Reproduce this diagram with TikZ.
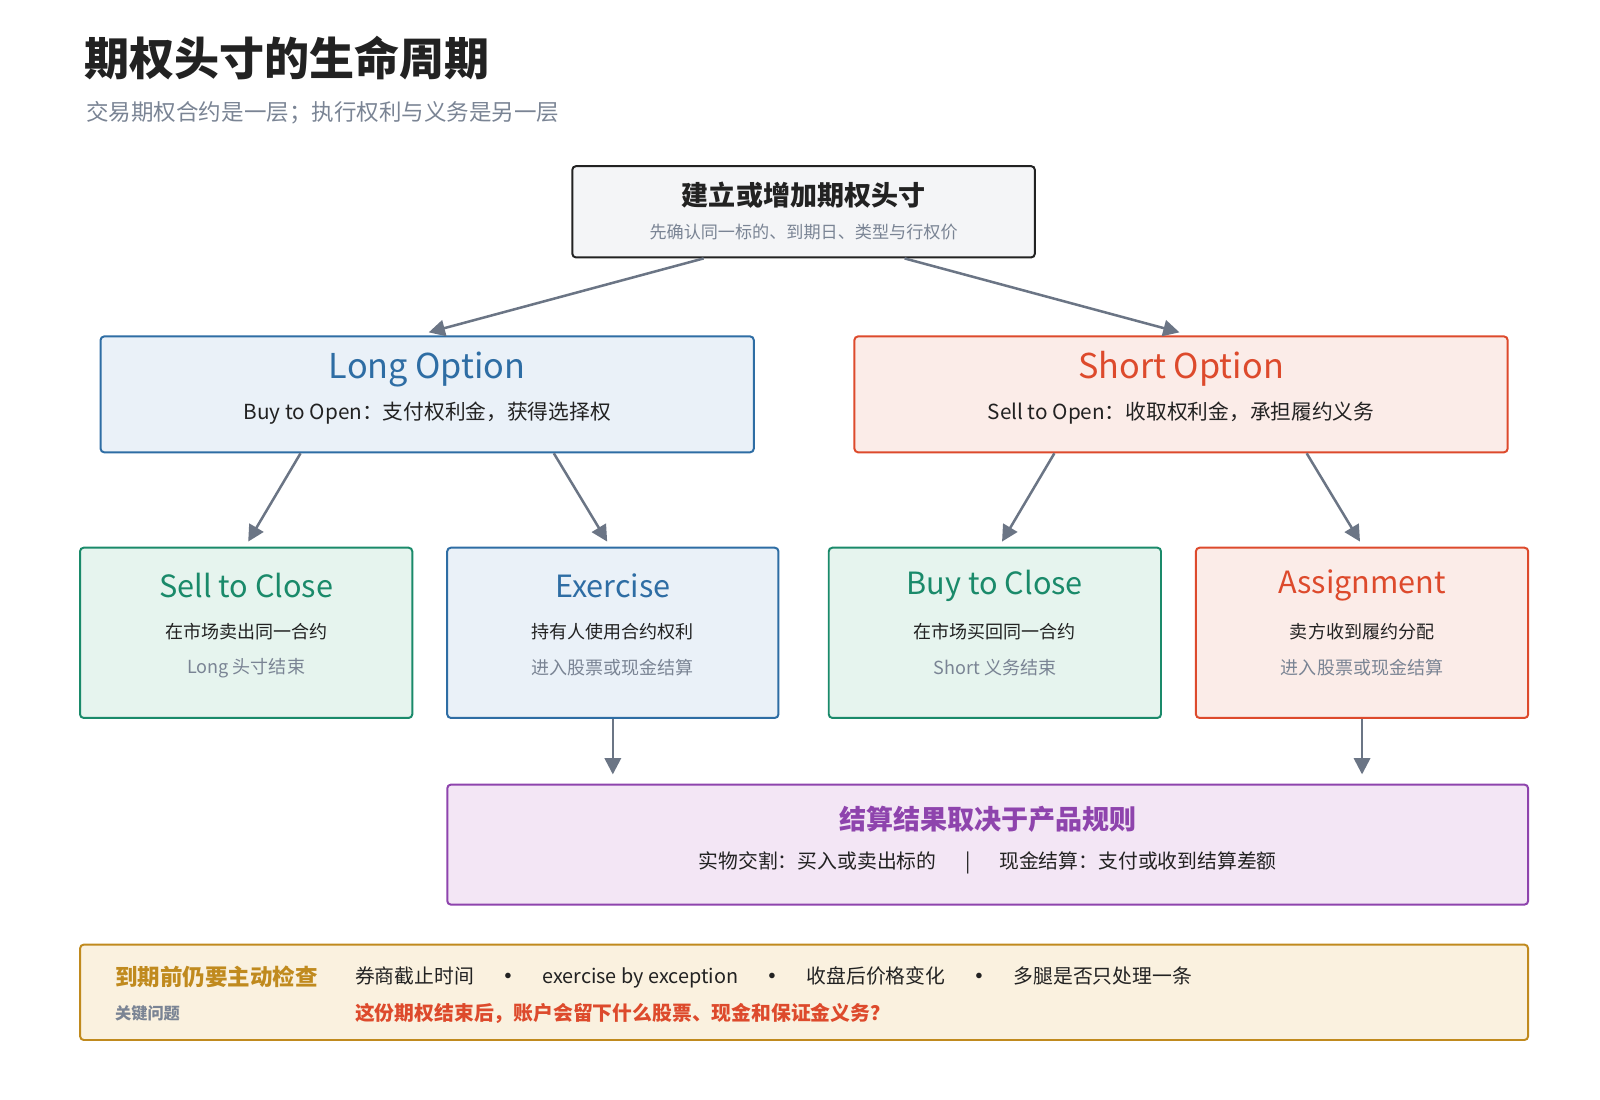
\documentclass[tikz,border=0pt]{standalone}
\usepackage{fontspec}
\setmainfont{Noto Sans CJK SC}
\usetikzlibrary{arrows.meta,positioning,calc}
\definecolor{ink}{HTML}{222222}
\definecolor{muted}{HTML}{7A8494}
\definecolor{arrowgray}{HTML}{6B7585}
\definecolor{blueln}{HTML}{2E6DA4}
\definecolor{bluebg}{HTML}{EAF1F8}
\definecolor{redln}{HTML}{DD4A2C}
\definecolor{redbg}{HTML}{FBECE8}
\definecolor{greenln}{HTML}{1A8A6A}
\definecolor{greenbg}{HTML}{E6F4EE}
\definecolor{purpleln}{HTML}{8E44AD}
\definecolor{purplebg}{HTML}{F3E6F5}
\definecolor{goldln}{HTML}{C08A1E}
\definecolor{goldbg}{HTML}{FAF1DF}
\definecolor{topbg}{HTML}{F4F5F7}
\tikzset{
  box/.style={draw, line width=1.1pt, rounded corners=2pt, inner sep=0pt},
  arr/.style={-{Triangle[length=9pt,width=9pt]}, draw=arrowgray, line width=1.4pt},
  head/.style={font=\fontsize{17}{20}\selectfont},
  line1/.style={font=\fontsize{10}{12}\selectfont, text=ink},
  line2/.style={font=\fontsize{10}{12}\selectfont, text=muted},
}
\begin{document}
\begin{tikzpicture}[x=0.02cm,y=0.02cm]
  \useasboundingbox (0,0) rectangle (1560,-1072);

  % title
  \node[anchor=west, font=\bfseries\fontsize{25}{28}\selectfont, text=ink] (title) at (76,-57) {期权头寸的生命周期};
  \node[anchor=west, font=\fontsize{12.5}{15}\selectfont, text=muted] (subtitle) at (78,-110) {交易期权合约是一层；执行权利与义务是另一层};

  % top box
  \node[box, draw=ink, fill=topbg, minimum width=9.02cm, minimum height=1.78cm] (top) at (783.5,-206.5) {};
  \node[font=\bfseries\fontsize{15}{18}\selectfont, text=ink] (toph) at (783.5,-190) {建立或增加期权头寸};
  \node[font=\fontsize{9.5}{11}\selectfont, text=muted] (tops) at (783.5,-226) {先确认同一标的、到期日、类型与行权价};

  % long / short
  \node[box, draw=blueln, fill=bluebg, minimum width=12.74cm, minimum height=2.26cm] (long) at (416.5,-384.5) {};
  \node[font=\fontsize{19}{22}\selectfont, text=blueln] at (416.5,-360) {Long Option};
  \node[font=\fontsize{11.5}{14}\selectfont, text=ink] at (416.5,-403) {Buy to Open：支付权利金，获得选择权};

  \node[box, draw=redln, fill=redbg, minimum width=12.74cm, minimum height=2.26cm] (short) at (1151.5,-384.5) {};
  \node[font=\fontsize{19}{22}\selectfont, text=redln] at (1151.5,-360) {Short Option};
  \node[font=\fontsize{11.5}{14}\selectfont, text=ink] at (1151.5,-403) {Sell to Open：收取权利金，承担履约义务};

  % outcomes
  \node[box, draw=greenln, fill=greenbg, minimum width=6.48cm, minimum height=3.32cm] (stc) at (240,-617) {};
  \node[head, text=greenln] at (240,-571) {Sell to Close};
  \node[line1] at (240,-616) {在市场卖出同一合约};
  \node[line2] at (240,-651) {Long 头寸结束};

  \node[box, draw=blueln, fill=bluebg, minimum width=6.46cm, minimum height=3.32cm] (exer) at (597.5,-617) {};
  \node[head, text=blueln] at (597.5,-571) {Exercise};
  \node[line1] at (597.5,-616) {持有人使用合约权利};
  \node[line2] at (597.5,-651) {进入股票或现金结算};

  \node[box, draw=greenln, fill=greenbg, minimum width=6.48cm, minimum height=3.32cm] (btc) at (970,-617) {};
  \node[head, text=greenln] at (970,-571) {Buy to Close};
  \node[line1] at (970,-616) {在市场买回同一合约};
  \node[line2] at (970,-651) {Short 义务结束};

  \node[box, draw=redln, fill=redbg, minimum width=6.48cm, minimum height=3.32cm] (assign) at (1328,-617) {};
  \node[head, text=redln] at (1328,-571) {Assignment};
  \node[line1] at (1328,-616) {卖方收到履约分配};
  \node[line2] at (1328,-651) {进入股票或现金结算};

  % settlement
  \node[box, draw=purpleln, fill=purplebg, minimum width=21.08cm, minimum height=2.34cm] (settle) at (963,-823.5) {};
  \node[font=\bfseries\fontsize{15}{18}\selectfont, text=purpleln] at (963,-799) {结算结果取决于产品规则};
  \node[font=\fontsize{11}{13}\selectfont, text=ink] at (963,-841) {实物交割：买入或卖出标的\quad\ \ |\quad\ \ 现金结算：支付或收到结算差额};

  % checklist
  \node[box, draw=goldln, fill=goldbg, minimum width=28.24cm, minimum height=1.86cm] (check) at (784,-967.5) {};
  \node[anchor=west, font=\bfseries\fontsize{12.5}{15}\selectfont, text=goldln] at (106,-952) {到期前仍要主动检查};
  \node[anchor=west, font=\bfseries\fontsize{9}{11}\selectfont, text=muted] at (106,-988) {关键问题};
  \node[anchor=west, font=\fontsize{11}{13}\selectfont, text=ink] at (340,-953) {券商截止时间\quad\ \textbf{·}\quad\ exercise by exception\quad\ \textbf{·}\quad\ 收盘后价格变化\quad\ \textbf{·}\quad\ 多腿是否只处理一条};
  \node[anchor=west, font=\bfseries\fontsize{11}{13}\selectfont, text=redln] at (340,-988) {这份期权结束后，账户会留下什么股票、现金和保证金义务？};

  % connectors
  \draw[arr] ([xshift=-1.95cm]top.south) -- ([xshift=0.03cm,yshift=0.06cm]long.north);
  \draw[arr] ([xshift=1.97cm]top.south) -- ([xshift=-0.03cm,yshift=0.06cm]short.north);
  \draw[arr] ([xshift=-2.47cm]long.south) -- ([xshift=0.04cm,yshift=0.1cm]stc.north);
  \draw[arr] ([xshift=2.47cm]long.south) -- ([xshift=-0.11cm,yshift=0.1cm]exer.north);
  \draw[arr] ([xshift=-2.47cm]short.south) -- ([xshift=0.14cm,yshift=0.1cm]btc.north);
  \draw[arr] ([xshift=2.45cm]short.south) -- ([xshift=-0.04cm,yshift=0.1cm]assign.north);
  \draw[arr] (exer.south) -- ([yshift=0.18cm]exer.south |- settle.north);
  \draw[arr] (assign.south) -- ([yshift=0.18cm]assign.south |- settle.north);
\end{tikzpicture}
\end{document}
